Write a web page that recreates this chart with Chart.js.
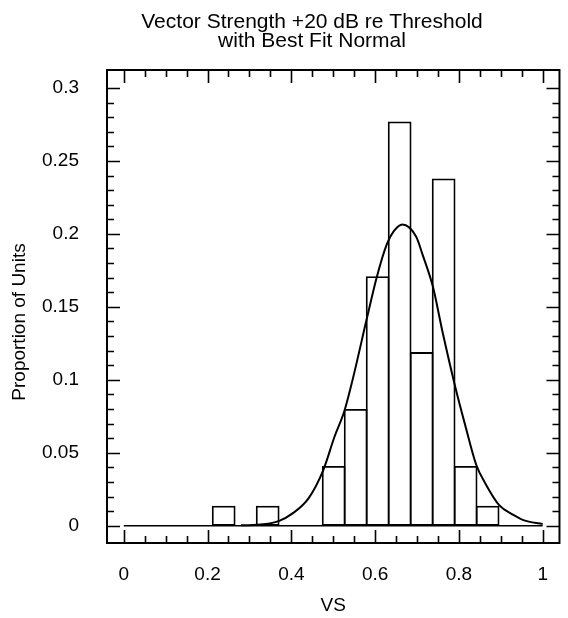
<!DOCTYPE html>
<html>
<head>
<meta charset="utf-8">
<script src="https://cdn.jsdelivr.net/npm/chart.js@4"></script>
<style>
  html, body { margin: 0; padding: 0; background: #ffffff; }
  #wrap { width: 568px; height: 618px; }
</style>
</head>
<body>
<div id="wrap"><canvas id="c" width="568" height="618"></canvas></div>
<script>
// ---- data ----
const titleLines = ['Vector Strength +20 dB re Threshold', 'with Best Fit Normal'];
const xTitle = 'VS';
const yTitle = 'Proportion of Units';

// histogram bin centres (VS) and proportions
const binCenters = [0.2385, 0.3435, 0.5010, 0.5535, 0.6060, 0.6585, 0.7110, 0.7635, 0.8160, 0.8685];
const binValues  = [0.0137, 0.0137, 0.041, 0.080, 0.171, 0.277, 0.119, 0.238, 0.041, 0.0137];

// best-fit normal curve
const curveX = [0.28, 0.333, 0.371, 0.403, 0.441, 0.476, 0.503, 0.527, 0.546, 0.581, 0.604, 0.628, 0.645, 0.665, 0.698, 0.713, 0.738, 0.760, 0.791, 0.814, 0.841, 0.865, 0.896, 0.930, 0.954, 1.0];
const curveY = [0.0003, 0.001, 0.0034, 0.0085, 0.0188, 0.038, 0.061, 0.079, 0.0998, 0.143, 0.1705, 0.193, 0.202, 0.2064, 0.198, 0.186, 0.1637, 0.134, 0.0955, 0.070, 0.042, 0.028, 0.0142, 0.0075, 0.0039, 0.0012];

// axis ticks
const xTickValues = [0, 0.2, 0.4, 0.6, 0.8, 1];
const xTickLabels = ['0', '0.2', '0.4', '0.6', '0.8', '1'];
const yTickValues = [0, 0.05, 0.1, 0.15, 0.2, 0.25, 0.3];
const yTickLabels = ['0', '0.05', '0.1', '0.15', '0.2', '0.25', '0.3'];
const xMinorStep = 0.05;
const yMinorStep = 0.01;

const FONT = '"Liberation Sans", Arial, Helvetica, sans-serif';

const framePlugin = {
  id: 'framePlugin',
  afterDatasetsDraw(chart) {
    const ctx = chart.ctx;
    const a = chart.chartArea;
    const xs = chart.scales.x, ys = chart.scales.y;
    ctx.save();
    ctx.strokeStyle = '#000';
    // baseline at 0 across the VS range
    ctx.lineWidth = 1.5;
    const y0 = ys.getPixelForValue(0);
    ctx.beginPath();
    ctx.moveTo(xs.getPixelForValue(xTickValues[0]), y0);
    ctx.lineTo(xs.getPixelForValue(xTickValues[xTickValues.length - 1]), y0);
    ctx.stroke();
    // frame
    ctx.lineWidth = 2;
    ctx.strokeRect(a.left, a.top, a.right - a.left, a.bottom - a.top);
    // x ticks (top and bottom, inward)
    ctx.lineWidth = 1.6;
    const xFirst = xTickValues[0], xLast = xTickValues[xTickValues.length - 1];
    const nx = Math.round((xLast - xFirst) / xMinorStep);
    for (let i = 0; i <= nx; i++) {
      const v = xFirst + i * xMinorStep;
      const major = xTickValues.some(t => Math.abs(t - v) < 1e-6);
      const len = major ? 13 : 7;
      const px = Math.round(xs.getPixelForValue(v)) + 0.5;
      ctx.beginPath();
      ctx.moveTo(px, a.bottom); ctx.lineTo(px, a.bottom - len);
      ctx.moveTo(px, a.top); ctx.lineTo(px, a.top + len);
      ctx.stroke();
    }
    // y ticks (left and right, inward)
    const yFirst = yTickValues[0], yLast = yTickValues[yTickValues.length - 1];
    const ny = Math.round((yLast - yFirst) / yMinorStep);
    for (let i = 0; i <= ny; i++) {
      const v = yFirst + i * yMinorStep;
      const major = yTickValues.some(t => Math.abs(t - v) < 1e-6);
      const len = major ? 13 : 7;
      const py = Math.round(ys.getPixelForValue(v)) + 0.5;
      ctx.beginPath();
      ctx.moveTo(a.left, py); ctx.lineTo(a.left + len, py);
      ctx.moveTo(a.right, py); ctx.lineTo(a.right - len, py);
      ctx.stroke();
    }
    ctx.restore();
  },
  afterDraw(chart) {
    const ctx = chart.ctx;
    ctx.save();
    ctx.fillStyle = '#000';
    ctx.font = '21px ' + FONT;
    ctx.textAlign = 'center';
    ctx.textBaseline = 'alphabetic';
    ctx.fillText(titleLines[0], 312, 28);
    ctx.fillText(titleLines[1], 312, 47);
    // y axis title
    ctx.font = '19px ' + FONT;
    ctx.textBaseline = 'middle';
    ctx.translate(20, 322);
    ctx.rotate(-Math.PI / 2);
    ctx.fillText(yTitle, 0, 0);
    ctx.restore();
  }
};

new Chart(document.getElementById('c'), {
  type: 'bar',
  data: {
    datasets: [
      {
        type: 'line',
        label: 'Best fit normal',
        data: curveX.map((x, i) => ({ x: x, y: curveY[i] })),
        borderColor: '#000',
        borderWidth: 2,
        pointRadius: 0,
        fill: false,
        cubicInterpolationMode: 'monotone',
        order: 0
      },
      {
        type: 'bar',
        label: 'Proportion',
        data: binCenters.map((x, i) => ({ x: x, y: binValues[i] })),
        backgroundColor: 'rgba(255,255,255,0)',
        borderColor: '#000',
        borderWidth: 1.8,
        borderSkipped: false,
        barPercentage: 1.08,
        categoryPercentage: 1.0,
        order: 1
      }
    ]
  },
  options: {
    responsive: false,
    animation: false,
    devicePixelRatio: 1,
    layout: { padding: { top: 70, right: -2, left: 0, bottom: 0 } },
    plugins: {
      legend: { display: false },
      title: { display: false },
      tooltip: { enabled: false }
    },
    scales: {
      x: {
        type: 'linear',
        offset: false,
        min: -0.04,
        max: 1.04,
        grid: { display: false, drawTicks: false },
        border: { display: false },
        afterBuildTicks(scale) { scale.ticks = xTickValues.map(v => ({ value: v })); },
        afterFit(scale) { scale.height = 75; },
        ticks: {
          padding: 20,
          maxRotation: 0,
          autoSkip: false,
          color: '#000',
          font: { family: FONT, size: 19 },
          callback(value) {
            const i = xTickValues.findIndex(t => Math.abs(t - value) < 1e-6);
            return i >= 0 ? xTickLabels[i] : '';
          }
        },
        title: {
          display: true,
          text: xTitle,
          color: '#000',
          font: { family: FONT, size: 19 },
          padding: { top: 0, bottom: 1 }
        }
      },
      y: {
        type: 'linear',
        min: -0.0118,
        max: 0.3123,
        grid: { display: false, drawTicks: false },
        border: { display: false },
        afterBuildTicks(scale) { scale.ticks = yTickValues.map(v => ({ value: v })); },
        afterFit(scale) { scale.width = 107; },
        ticks: {
          padding: 28,
          autoSkip: false,
          color: '#000',
          font: { family: FONT, size: 19 },
          callback(value) {
            const i = yTickValues.findIndex(t => Math.abs(t - value) < 1e-6);
            return i >= 0 ? yTickLabels[i] : '';
          }
        },
        title: { display: false }
      }
    }
  },
  plugins: [framePlugin]
});
</script>
</body>
</html>
